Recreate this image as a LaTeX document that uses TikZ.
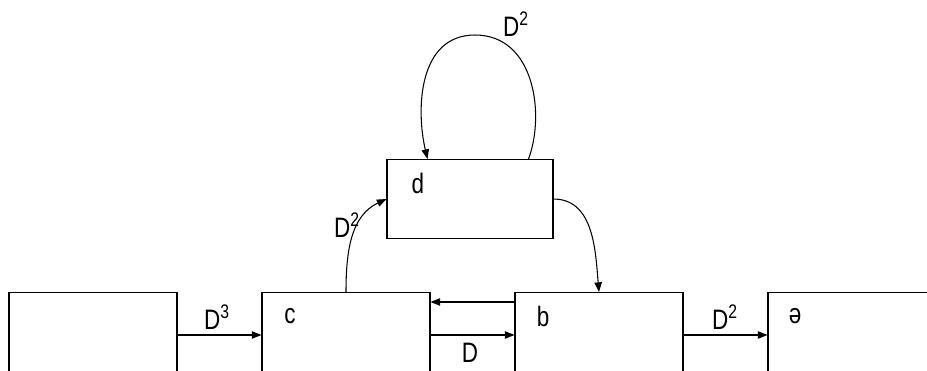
\documentclass[tikz,border=0pt]{standalone}
\usepackage{fontspec}
\setmainfont[FakeStretch=0.8]{Liberation Sans}
\usetikzlibrary{arrows.meta,calc}

\begin{document}
\begin{tikzpicture}[
    x=0.02cm, y=-0.02cm,
    font=\fontsize{16}{19}\selectfont,
    >={Triangle[length=5.5pt,width=4.2pt]},
    box/.style={rectangle, draw, line width=0.6pt, inner sep=0pt, minimum width=3.36cm, minimum height=3cm, anchor=north},
    link/.style={->, line width=0.6pt},
    tag/.style={inner sep=0pt},
]
\useasboundingbox (0,0) rectangle (927,370);

% Boxes
\node[box] (e) at (93,292) {};
\node[box] (c) at (346,292) {};
\node[box] (b) at (599,292) {};
\node[box] (a) at (852,292) {};
\node[box, minimum width=3.32cm, minimum height=1.58cm] (d) at (470,159) {};

% Box names
\node[tag] (lc) at (290,316) {c};
\node[tag] (lb) at (543,316) {b};
\node[tag] (la) at (795,316) {ə};
\node[tag] (ld) at (418,183) {d};

% Straight links
\draw[link] ($(e.north east)+(0,43)$) -- ($(c.north west)+(0,43)$);
\draw[link] ($(c.north east)+(0,43)$) -- ($(b.north west)+(0,43)$);
\draw[link] ($(b.north west)+(0,10)$) -- ($(c.north east)+(0,10)$);
\draw[link] ($(b.north east)+(0,43)$) -- ($(a.north west)+(0,43)$);

% Curved links
\draw[link] (c.north) to[out=90, in=205] (d.west);
\draw[link] (d.east) to[out=0, in=95] (b.north);

% Loop on d
\coordinate (loopR) at ($(d.north east)+(-25,0)$);
\coordinate (loopT) at (475,35);
\coordinate (loopL) at ($(d.north west)+(41,0)$);
\draw[link] (loopR) .. controls (545,115) and (535,35) .. (loopT)
    .. controls (418,35) and (416,110) .. (loopL);

% Link labels
\node[tag] (k1) at (217,317) {D\textsuperscript{3}};
\node[tag] (k2) at (470,353) {D};
\node[tag] (k3) at (725,317) {D\textsuperscript{2}};
\node[tag] (k4) at (347,225) {D\textsuperscript{2}};
\node[tag] (k5) at (516,24) {D\textsuperscript{2}};

\end{tikzpicture}
\end{document}
